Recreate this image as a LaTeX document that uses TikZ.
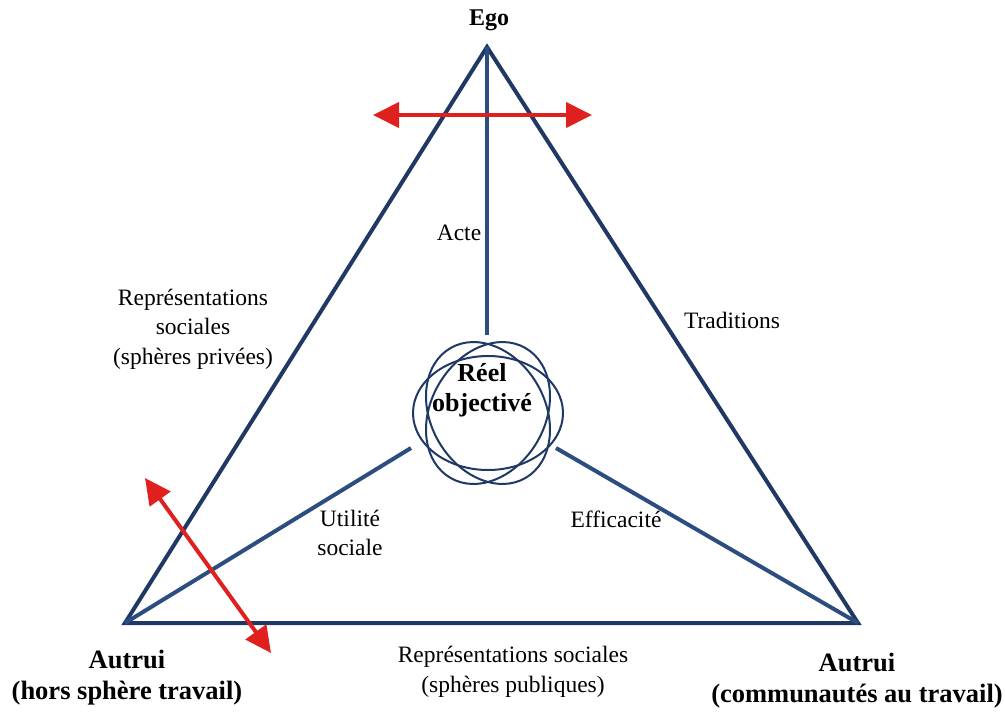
\documentclass[tikz,border=0pt]{standalone}
\usepackage{fontspec}
\setmainfont{Liberation Serif}
\usetikzlibrary{arrows.meta}
\definecolor{navy}{HTML}{203864}
\definecolor{blue2}{HTML}{2C4D80}
\definecolor{redarr}{HTML}{E0201F}
\tikzset{
  tri/.style={draw=navy, line width=4pt},
  inner/.style={draw=blue2, line width=4pt},
  loop/.style={draw=navy, line width=2pt},
  redarrow/.style={draw=redarr, line width=4pt, {Triangle[length=26pt,width=25pt]}-{Triangle[length=26pt,width=25pt]}},
  lbl/.style={align=center, font=\fontsize{23.5}{29.5}\selectfont, inner sep=0pt},
  blbl/.style={align=center, font=\fontsize{26.5}{31}\selectfont\bfseries, inner sep=0pt}
}
\begin{document}
\begin{tikzpicture}[x=1pt,y=-1pt]
\useasboundingbox (0,0) rectangle (1005,713);
\coordinate (ego) at (487,47);
\coordinate (al) at (125,623);
\coordinate (ar) at (858,623);
\coordinate (acteend) at (487,335);
\coordinate (utend) at (411,448);
\coordinate (efend) at (556,448);
% triangle
\draw[tri] (ego) -- (ar) -- (al) -- cycle;
% inner lines
\draw[inner] (ego) -- (acteend);
\draw[inner] (al) -- (utend);
\draw[inner] (ar) -- (efend);
% loops
\coordinate (rc) at (488,413);
\draw[loop] (rc) ellipse [x radius=75, y radius=57];
\draw[loop, rotate around={60:(rc)}] (rc) ellipse [x radius=75, y radius=57];
\draw[loop, rotate around={120:(rc)}] (rc) ellipse [x radius=75, y radius=57];
\node[blbl, font=\fontsize{26}{30}\selectfont\bfseries] (reel) at (482,390) {Réel\\objectivé};
% red arrows
\coordinate (h1) at (373,115);
\coordinate (h2) at (592,115);
\draw[redarrow] (h1) -- (h2);
\coordinate (d1) at (145,478);
\coordinate (d2) at (271,653);
\draw[redarrow] (d1) -- (d2);
% labels
\node[blbl, font=\fontsize{24}{30}\selectfont\bfseries] (egolbl) at (489,20) {Ego};
\node[lbl] (acte) at (459,233) {Acte};
\node[lbl] (rsp) at (193,329) {Représentations\\sociales\\(sphères privées)};
\node[lbl] (trad) at (732,320) {Traditions};
\node[lbl] (util) at (350,533) {Utilité\\sociale};
\node[lbl] (effi) at (616,519) {Efficacité};
\node[lbl] (rspub) at (513,672) {Représentations sociales\\(sphères publiques)};
\node[blbl] (autl) at (127,678) {Autrui\\(hors sphère travail)};
\node[blbl] (autr) at (857,681) {Autrui\\(communautés au travail)};
\end{tikzpicture}
\end{document}
